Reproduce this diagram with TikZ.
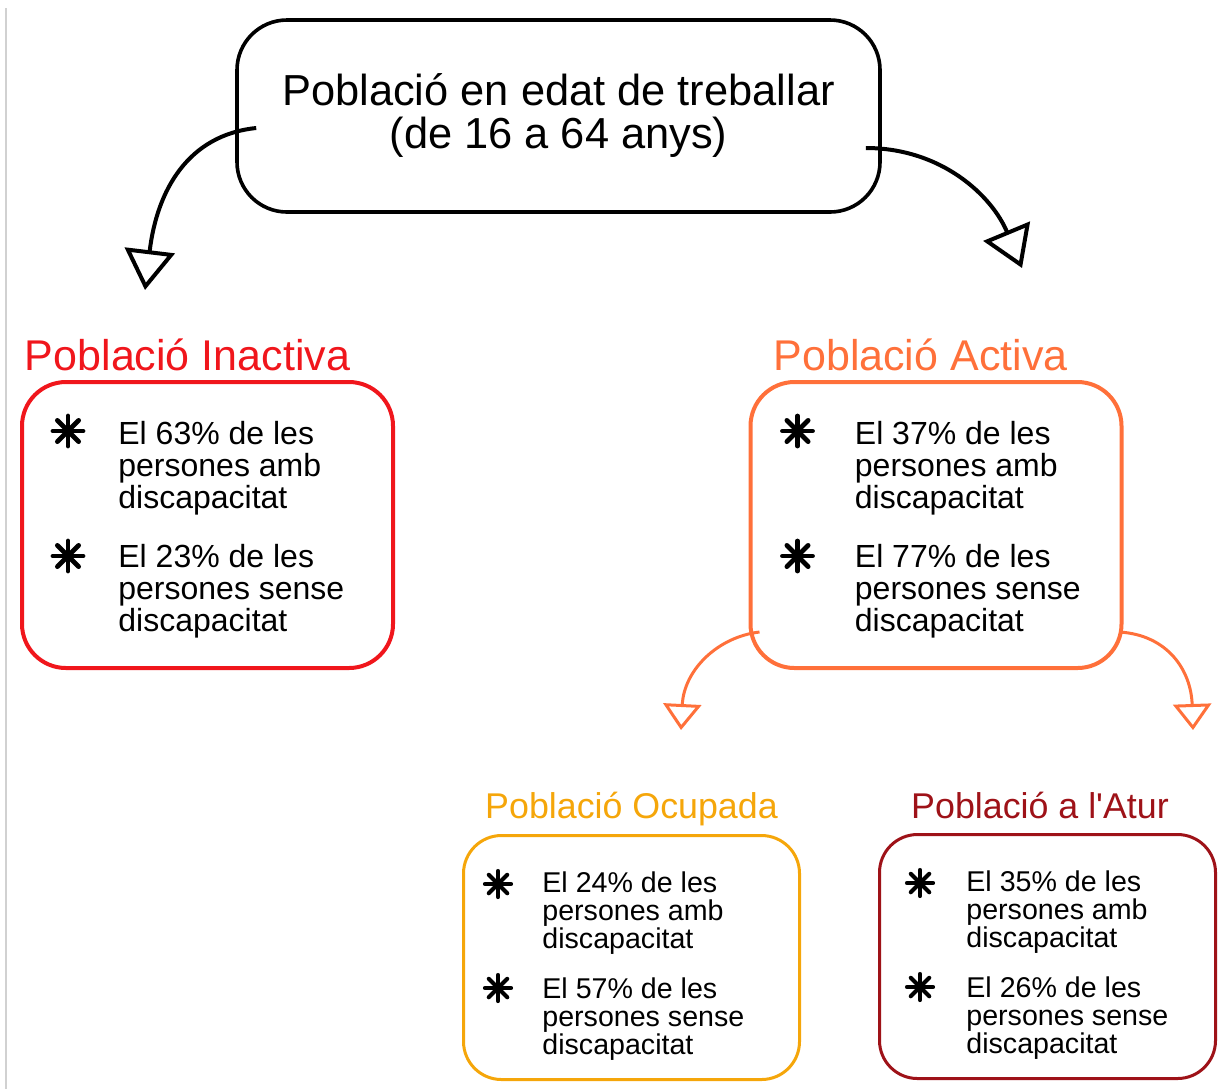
\documentclass[tikz,border=0pt]{standalone}
\usepackage{fontspec}
\setmainfont{Liberation Sans}[Ligatures=TeXOff]
\usetikzlibrary{calc,arrows.meta}

\definecolor{inactred}{RGB}{240,22,28}
\definecolor{actorange}{RGB}{255,112,58}
\definecolor{ocupyellow}{RGB}{245,166,10}
\definecolor{aturred}{RGB}{158,18,24}

\tikzset{
  bigbox/.style={draw=#1, line width=2pt, rounded corners=22pt, minimum width=185.5pt, minimum height=143pt},
  smallbox/.style={draw=#1, line width=1.5pt, rounded corners=19pt, minimum width=168pt, minimum height=122pt},
  bighead/.style={text=#1, anchor=base, inner sep=0pt, font=\fontsize{21.5}{21.5}\selectfont},
  smallhead/.style={text=#1, anchor=base, inner sep=0pt, font=\fontsize{17.9}{17.9}\selectfont},
  bigtxt/.style={anchor=north west, align=left, inner sep=0pt, font=\fontsize{16}{16}\selectfont},
  smalltxt/.style={anchor=north west, align=left, inner sep=0pt, font=\fontsize{14.3}{14}\selectfont},
  bigarrow/.style={line width=2pt, -{Triangle[open, length=20pt, width=25pt, line width=2pt]}},
  smallarrow/.style={actorange, line width=1.5pt, -{Triangle[open, length=13pt, width=19pt, line width=1.5pt]}},
  pics/asterisk/.style={code={
    \foreach \a in {0,45,90,135}
      \draw[line width=#1*0.32, line cap=round] (\a:#1) -- (\a+180:#1);
  }}
}

\begin{document}
\begin{tikzpicture}[x=0.5pt,y=-0.5pt]
\useasboundingbox (0,0) rectangle (1224,1089);
\draw[black!18, line width=1pt] (6,8) -- (6,1089);

\node[draw, line width=1.8pt, rounded corners=25pt, minimum width=321.5pt, minimum height=96pt, align=center, font=\fontsize{21.7}{21.5}\selectfont] (title) at (558.5,116) {Població en edat de treballar\\(de 16 a 64 anys)};

\node[bighead=inactred] (inactLabel) at (187.5,370) {Població Inactiva};
\node[bigbox=inactred] (inact) at (207.5,525) {};
\pic at ($(inact.north west)+(48,51)$) {asterisk=7.5pt};
\node[bigtxt] (inactA) at ($(inact.north west)+(98,41)$) {El 63\% de les\\persones amb\\discapacitat};
\pic at ($(inact.north west)+(48,176)$) {asterisk=7.5pt};
\node[bigtxt] (inactB) at ($(inact.north west)+(98,164)$) {El 23\% de les\\persones sense\\discapacitat};

\node[bighead=actorange] (actLabel) at (920.5,370) {Població Activa};
\node[bigbox=actorange] (act) at (936,525) {};
\pic at ($(act.north west)+(49,51)$) {asterisk=7.5pt};
\node[bigtxt] (actA) at ($(act.north west)+(106,41)$) {El 37\% de les\\persones amb\\discapacitat};
\pic at ($(act.north west)+(49,176)$) {asterisk=7.5pt};
\node[bigtxt] (actB) at ($(act.north west)+(106,164)$) {El 77\% de les\\persones sense\\discapacitat};

\node[smallhead=ocupyellow] (ocupLabel) at (631.5,818) {Població Ocupada};
\node[smallbox=ocupyellow] (ocup) at (631.5,957.5) {};
\pic at ($(ocup.north west)+(36,50)$) {asterisk=6.5pt};
\node[smalltxt] (ocupA) at ($(ocup.north west)+(80,37)$) {El 24\% de les\\persones amb\\discapacitat};
\pic at ($(ocup.north west)+(36,154)$) {asterisk=6.5pt};
\node[smalltxt] (ocupB) at ($(ocup.north west)+(80,143)$) {El 57\% de les\\persones sense\\discapacitat};

\node[smallhead=aturred] (aturLabel) at (1040,818) {Població a l'Atur};
\node[smallbox=aturred] (atur) at (1047.5,956.5) {};
\pic at ($(atur.north west)+(42,50)$) {asterisk=6.5pt};
\node[smalltxt] (aturA) at ($(atur.north west)+(88,37)$) {El 35\% de les\\persones amb\\discapacitat};
\pic at ($(atur.north west)+(42,154)$) {asterisk=6.5pt};
\node[smalltxt] (aturB) at ($(atur.north west)+(88,143)$) {El 26\% de les\\persones sense\\discapacitat};

\coordinate (inactTip) at (145,290);
\coordinate (actTip) at (1022,268);
\coordinate (ocupTip) at (681,730);
\coordinate (aturTip) at (1193,730);

\draw[bigarrow] ($(title.west)+(21,12)$) .. controls +(-68,7) and +(12,-100) .. (inactTip);
\draw[bigarrow] ($(title.east)+(-16,32)$) .. controls +(76,0) and +(-30,-72) .. (actTip);
\draw[smallarrow] ($(act.south west)+(11,-38)$) .. controls +(-42,5) and +(3,-60) .. (ocupTip);
\draw[smallarrow] ($(act.south east)+(-4,-38)$) .. controls +(48,3) and +(-2,-60) .. (aturTip);

\end{tikzpicture}
\end{document}
